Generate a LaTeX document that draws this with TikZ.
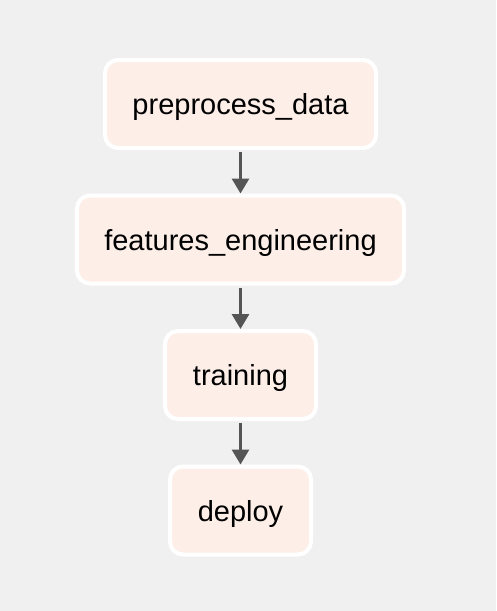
\documentclass[tikz,border=0pt]{standalone}
\usepackage{fontspec}
\setmainfont{Liberation Sans}
\usetikzlibrary{positioning, arrows.meta}
\definecolor{pagebg}{RGB}{240,240,240}
\definecolor{taskfill}{RGB}{253,238,232}
\definecolor{flowgray}{RGB}{85,85,85}

\begin{document}
\begin{tikzpicture}[x=1pt, y=1pt,
	task/.style={draw=white, line width=4pt, fill=taskfill, rounded corners=13pt, minimum height=88pt, inner sep=0pt, text depth=0pt, font=\fontsize{29}{34}\selectfont},
	flow/.style={draw=flowgray, line width=3pt, -{Triangle[width=17pt,length=15pt]}, shorten <=2pt, shorten >=0pt},
	node distance=43.5pt]
	
	\fill[pagebg] (0,0) rectangle (496,-611);
	\useasboundingbox (0,0) rectangle (496,-611);
	
	\node[task, minimum width=271pt] (prep) at (240.5,-104) {preprocess\_data};
	\node[task, minimum width=327pt, below=of prep] (feat) {features\_engineering};
	\node[task, minimum width=151pt, below=of feat] (train) {training};
	\node[task, minimum width=141pt, below=of train] (deploy) {deploy};
	
	\path[flow] (prep) -- (feat);
	\path[flow] (feat) -- (train);
	\path[flow] (train) -- (deploy);
	
\end{tikzpicture}
\end{document}
